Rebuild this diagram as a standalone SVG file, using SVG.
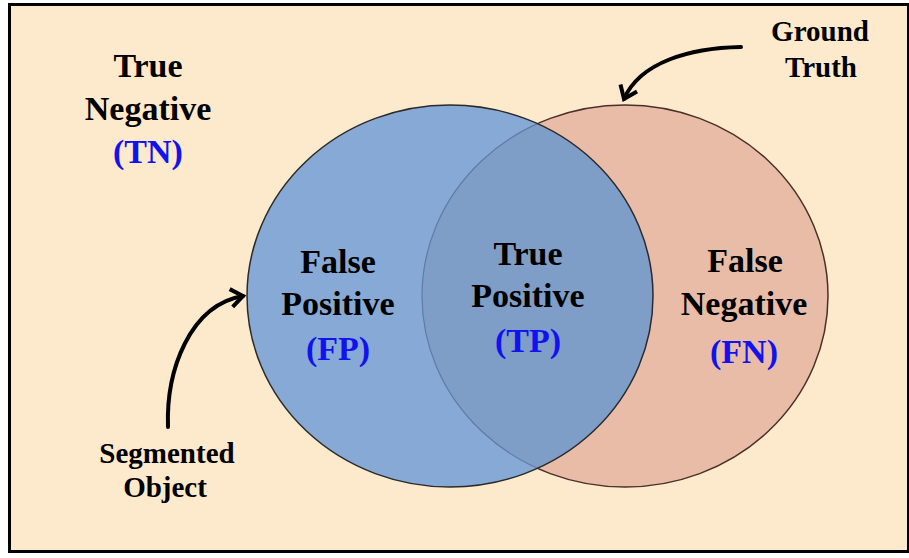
<svg xmlns="http://www.w3.org/2000/svg" width="909" height="558" viewBox="0 0 909 558">
  <style>
    text { font-family: 'Liberation Serif', 'Times New Roman', serif; font-weight: 700; text-anchor: middle; fill: #000; }
    .big { font-size: 34px; }
    .small { font-size: 29px; }
    .abbr { fill: #1212EE; }
    .arrow { fill: none; stroke: #000; stroke-width: 4; stroke-linecap: round; }
  </style>
  <defs>
    <clipPath id="blueClip">
      <ellipse cx="450" cy="296" rx="203" ry="191"/>
    </clipPath>
    <marker id="vhead" markerUnits="userSpaceOnUse" markerWidth="30" markerHeight="30" viewBox="-15 -15 30 30" refX="0" refY="0" orient="auto">
      <path d="M-12,-9 L0,0 L-12,9" fill="none" stroke="#000" stroke-width="4" stroke-linejoin="miter"/>
    </marker>
  </defs>

  <rect x="0" y="0" width="909" height="558" fill="#ffffff"/>
  <rect x="9.5" y="4.5" width="899" height="547" fill="#FDEACC" stroke="#000" stroke-width="3"/>

  <g id="ground-truth-circle">
    <ellipse cx="625" cy="296" rx="203" ry="191" fill="#E9BCA8" stroke="#4a3028" stroke-width="1.5"/>
  </g>
  <g id="segmented-circle">
    <ellipse cx="450" cy="296" rx="203" ry="191" fill="#87A9D5"/>
  </g>
  <g id="overlap" clip-path="url(#blueClip)">
    <ellipse cx="625" cy="296" rx="203" ry="191" fill="#7E9DC7" stroke="#5F7BA6" stroke-width="1.2"/>
  </g>
  <g id="segmented-outline">
    <ellipse cx="450" cy="296" rx="203" ry="191" fill="none" stroke="#2a2a2a" stroke-width="1.5"/>
  </g>

  <g id="connectors">
    <path class="arrow" d="M741,47 C690,48 640,62 624,99" marker-end="url(#vhead)"/>
    <path class="arrow" d="M168,427 C166,370 190,305 243,296" marker-end="url(#vhead)"/>
  </g>

  <g id="tn">
    <text class="big" x="148" y="77">True</text>
    <text class="big" x="148" y="120">Negative</text>
    <text class="big abbr" x="148" y="163">(TN)</text>
  </g>
  <g id="fp">
    <text class="big" x="338" y="273">False</text>
    <text class="big" x="338" y="315">Positive</text>
    <text class="big abbr" x="338" y="360">(FP)</text>
  </g>
  <g id="tp">
    <text class="big" x="528" y="265">True</text>
    <text class="big" x="528" y="307">Positive</text>
    <text class="big abbr" x="528" y="352">(TP)</text>
  </g>
  <g id="fn">
    <text class="big" x="745" y="272">False</text>
    <text class="big" x="744" y="315">Negative</text>
    <text class="big abbr" x="744" y="363">(FN)</text>
  </g>
  <g id="ground-truth-label">
    <text class="small" x="820" y="41">Ground</text>
    <text class="small" x="821" y="77">Truth</text>
  </g>
  <g id="segmented-label">
    <text class="small" x="167" y="463">Segmented</text>
    <text class="small" x="165" y="497">Object</text>
  </g>
</svg>
